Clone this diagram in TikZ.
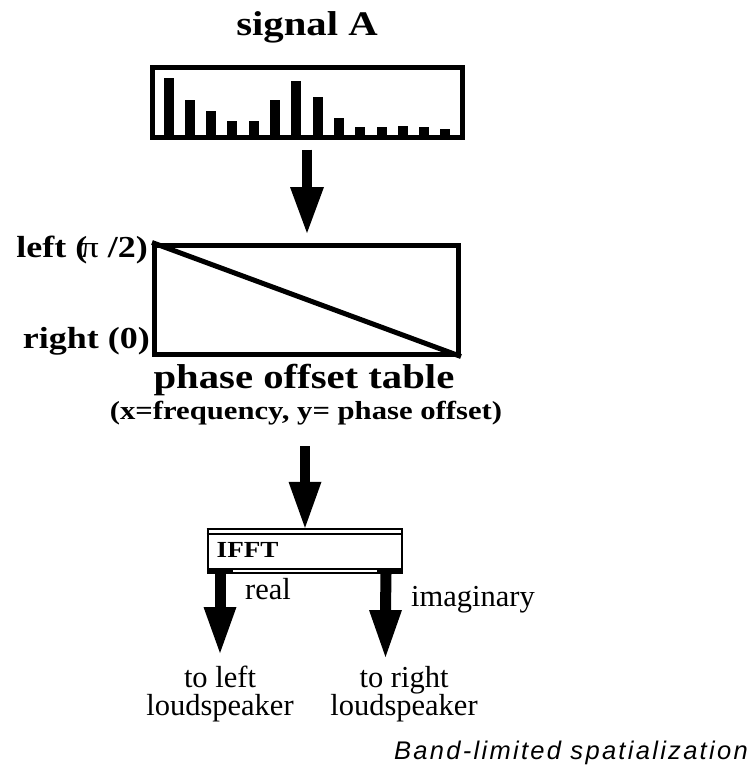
\documentclass[tikz,border=0pt]{standalone}
\usepackage{fontspec}
\setmainfont{Liberation Serif}
\newfontfamily\wideserif{Liberation Serif}[FakeStretch=1.18]
\newfontfamily\capsans{Liberation Sans}[LetterSpace=9]
\usetikzlibrary{calc}

% thick block arrow: start, tip, shaft width, head width, head length
\newcommand\fatarrow[5]{%
  \draw[line width=#3] (#1) -- ($(#2)+(0,-#5)$);
  \fill ($(#2)+(-#4/2,-#5)$) -- (#2) -- ($(#2)+(#4/2,-#5)$) -- cycle;}

\begin{document}
\begin{tikzpicture}[x=1pt,y=-1pt,
  heading/.style={font=\wideserif\bfseries\fontsize{34.5}{34.5}\selectfont, inner sep=0, anchor=base},
  subheading/.style={font=\wideserif\bfseries\fontsize{26}{26}\selectfont, inner sep=0, anchor=base},
  sidelabel/.style={font=\wideserif\bfseries\fontsize{30.5}{30.5}\selectfont, inner sep=0, anchor=base east},
  plain/.style={font=\fontsize{30.5}{28}\selectfont, inner sep=0},
  frame/.style={draw, line width=5pt, inner sep=0},
  bar/.style={fill=black}]
\useasboundingbox (0,0) rectangle (751,769);

% input spectrum
\node[heading] (sig) at (307,35) {signal A};
\node[frame, minimum width=310pt, minimum height=69.5pt] (spec) at (307.5,102.25) {};
\foreach \k/\t in {0/78.3,1/100,2/110.7,3/121.3,4/121.3,5/100,6/81,7/97.3,
                   8/118.3,9/127.3,10/127.3,11/126.3,12/127.3,13/129.3}
  \fill[bar] ({163.5+21.3*\k},\t) rectangle ++(10,{137-\t});

% phase offset table
\node[frame, minimum width=304pt, minimum height=109pt] (phase) at (306.5,299.5) {};
\draw[line width=5pt] (phase.north west) -- (phase.south east);
\node[sidelabel] (lefty) at (148,257) {left (\kern-0.22em{\mdseries π} /2)};
\node[sidelabel] (righty) at (150,348.5) {right (0)};
\node[heading] (ptitle) at (304,388) {phase offset table};
\node[subheading] (paxis) at (306,419) {(x=frequency, y= phase offset)};

\coordinate (a1) at ($(spec.south)+(-0.5,10)$);
\fatarrow{a1}{$(phase.north)+(0.5,-9.5)$}{10pt}{34}{46}

% IFFT block
\node[minimum width=194.2pt, minimum height=45pt, inner sep=0] (ifft) at (304.9,550.5) {};
\draw[line width=1.7pt] (206.7,529) -- (403,529) (206.7,534) -- (403,534);
\draw[line width=2.3pt] (207.8,528) -- (207.8,573) (402,528) -- (402,573);
\fill (206.7,568) rectangle (403,574);
\draw[white, line width=1.5pt] (233,571) -- (377,571);
\node[font=\wideserif\bfseries\fontsize{23}{23}\selectfont, inner sep=0, anchor=base west] (ifftlabel) at (216.5,557.3) {IFFT};

\coordinate (a2) at (305,446);
\fatarrow{a2}{$(ifft.north)+(0.1,0)$}{10pt}{33}{46}

% outputs
\coordinate (outl) at (220,574);
\coordinate (outr) at (386,574);
\coordinate (tipl) at (220,653);
\coordinate (tipr) at (385.5,657);
\fatarrow{outl}{tipl}{11pt}{33}{46}
\fatarrow{outr}{tipr}{11pt}{33}{47}
\node[plain, anchor=base west] (real) at (245,599) {real};
\node[plain, anchor=base west] (imag) at (411,606) {imaginary};
\node[plain, anchor=base, align=center] (tol) at (220,715) {to left\\loudspeaker};
\node[plain, anchor=base, align=center] (tor) at (404,715) {to right\\loudspeaker};

\node[font=\capsans\itshape\fontsize{25.5}{25.5}\selectfont, inner sep=0, anchor=base east] (cap) at (748,759) {Band-limited spatialization};
\end{tikzpicture}
\end{document}
